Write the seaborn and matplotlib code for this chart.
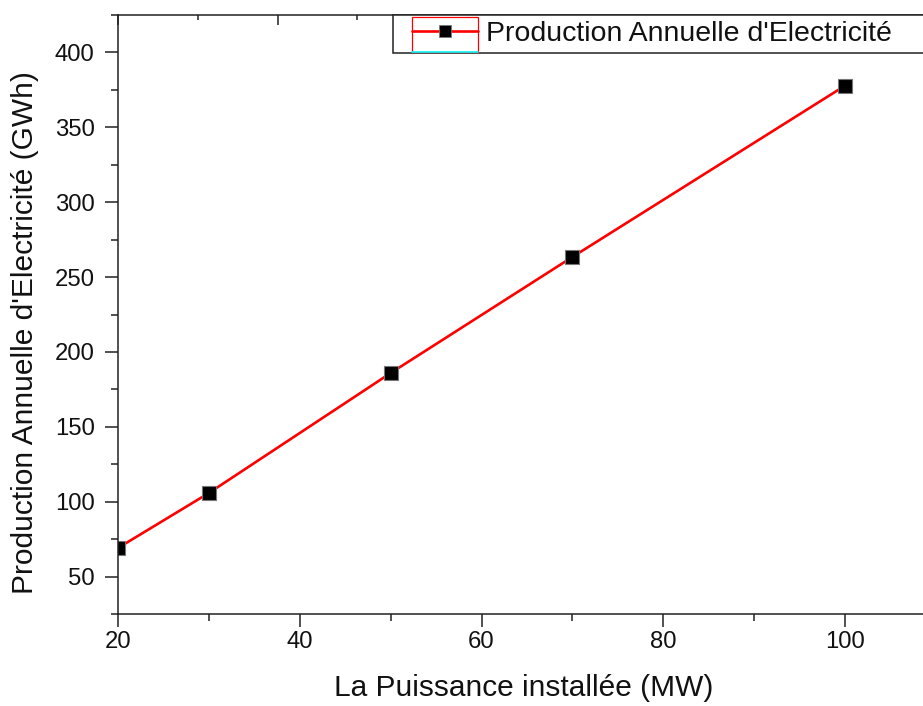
import numpy as np
import pandas as pd
import matplotlib
matplotlib.use("Agg")
import matplotlib.pyplot as plt
import seaborn as sns
from matplotlib.ticker import MultipleLocator
from matplotlib.patches import Rectangle
from matplotlib.lines import Line2D

# Data
puissance = [20, 30, 50, 70, 100]
production = [69.1, 105.8, 185.9, 263.4, 377.8]
series_label = "Production Annuelle d'Electricité"
xlabel = "La Puissance installée (MW)"
ylabel = "Production Annuelle d'Electricité (GWh)"

df = pd.DataFrame({"x": puissance, "y": production})

sns.set_style("ticks")
plt.rcParams['font.family'] = ['Liberation Sans', 'DejaVu Sans']

W, H = 923, 706
fig = plt.figure(figsize=(W / 100, H / 100), dpi=100)

x0, x1 = 20, 110
px_per_unit = (845 - 118) / 80.0
ax_w_px = (x1 - x0) * px_per_unit
ax = fig.add_axes([118 / W, 92 / H, ax_w_px / W, 599 / H])

sns.lineplot(data=df, x="x", y="y", ax=ax, color="red", linewidth=1.9,
             marker="s", markersize=10.5, markerfacecolor="black",
             markeredgecolor="#777777", markeredgewidth=0.8)

ax.set_xlim(x0, x1)
ax.set_ylim(25, 425)
ax.xaxis.set_major_locator(MultipleLocator(20))
ax.xaxis.set_minor_locator(MultipleLocator(10))
ax.yaxis.set_major_locator(MultipleLocator(50))
ax.yaxis.set_minor_locator(MultipleLocator(25))

ax.tick_params(axis='both', which='major', length=9.4, width=1.1, color='#222222',
               labelsize=17.2, labelcolor='#111111', direction='out')
ax.tick_params(axis='both', which='minor', length=4.7, width=1.1, color='#222222',
               direction='out')
ax.tick_params(axis='x', which='major', pad=2.5)
ax.tick_params(axis='y', which='major', pad=7.5)

for s in ax.spines.values():
    s.set_linewidth(1.1)
    s.set_color('#222222')
ax.spines['right'].set_visible(True)
ax.spines['top'].set_visible(True)

ax.set_xlabel(xlabel, fontsize=21.5, color='#111111')
ax.set_ylabel(ylabel, fontsize=21.5, color='#111111', va='center')
ax.xaxis.set_label_coords((523.5 - 118) / ax_w_px, (614 - 674) / 599)
ax.yaxis.set_label_coords((25 - 118) / ax_w_px, (614 - 333) / 599)

# top axis with inward ticks
ax2 = ax.twiny()
ax2.set_xlim(0, ax_w_px / 79.8)
ax2.xaxis.set_major_locator(MultipleLocator(2))
ax2.xaxis.set_minor_locator(MultipleLocator(1))
ax2.tick_params(axis='x', which='major', direction='in', length=7.5, width=1.1,
                color='#222222', labeltop=False)
ax2.tick_params(axis='x', which='minor', direction='in', length=3.8, width=1.1,
                color='#222222')
ax2.set_xlabel("")
for s in ax2.spines.values():
    s.set_visible(False)

# legend frame
fig.patches.append(Rectangle((393 / W, 1 - 53 / H), (950 - 393) / W, 38 / H,
                             transform=fig.transFigure, fill=True, facecolor='white',
                             edgecolor='#222222', linewidth=1.1, zorder=5))
fig.patches.append(Rectangle((412 / W, 1 - 52 / H), 66 / W, 35 / H,
                             transform=fig.transFigure, fill=False,
                             edgecolor='red', linewidth=0.9, zorder=6))
fig.lines.append(Line2D([412 / W, 478 / W], [1 - 52 / H, 1 - 52 / H],
                        transform=fig.transFigure, color='cyan', linewidth=1.2, zorder=7))

leg_fs = 20.5
handle = Line2D([], [], color='red', linewidth=1.9, marker='s', markersize=8.5,
                markerfacecolor='black', markeredgecolor='#777777', markeredgewidth=0.6)
leg = fig.legend([handle], [series_label], loc='center left',
                 bbox_to_anchor=(412 / W, 1 - 34 / H), bbox_transform=fig.transFigure,
                 frameon=False, fontsize=leg_fs, handlelength=66 / (leg_fs * 100 / 72),
                 handletextpad=8 / (leg_fs * 100 / 72), borderpad=0, borderaxespad=0)
leg.set_zorder(8)
for t in leg.get_texts():
    t.set_color('#111111')

fig.savefig("out.png", dpi=100)
